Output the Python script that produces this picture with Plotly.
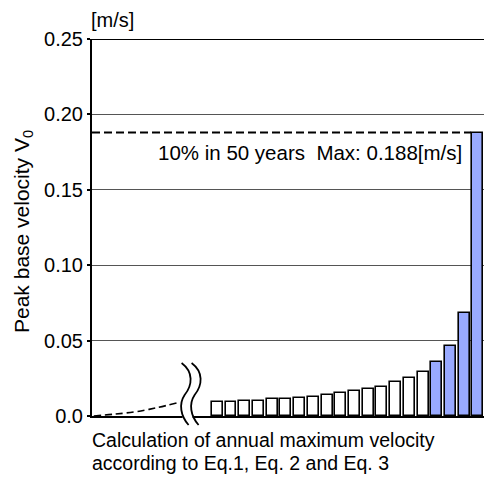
import plotly.graph_objects as go

# ---- data ----
bar_values = [0.0091, 0.0091, 0.0101, 0.0101, 0.0111, 0.0111, 0.0117, 0.0128,
              0.0141, 0.0150, 0.0168, 0.0177, 0.0194, 0.0225, 0.0254, 0.0292,
              0.0358, 0.0464, 0.0683, 0.188]
highlight = [False] * 16 + [True] * 4
curve_x = [-8.0, -6.5, -4.9, -3.4, -1.9]
curve_y = [0.0, 0.0012, 0.0029, 0.0055, 0.0088]
max_value = 0.188
y_tickvals = [0.0, 0.05, 0.10, 0.15, 0.20, 0.25]
y_ticktext = ["0.0", "0.05", "0.10", "0.15", "0.20", "0.25"]
x_title_lines = ["Calculation of annual maximum velocity", "according to Eq.1, Eq. 2 and Eq. 3"]
y_title = "Peak base velocity V<sub>0</sub>"
max_label = "10% in 50 years\u00a0 Max: 0.188[m/s]"
unit_label = "[m/s]"

FONT = "Liberation Sans, Arial, sans-serif"
W, H = 484, 478
ML, MR, MT, MB = 92, 0, 39, 62
XR = [-8.13, 20.44]
YR = [0, 0.25]
break_x = -1.6  # position of the axis-break symbol, in x units

bar_x = list(range(1, len(bar_values) + 1))
colors = ["#99aaff" if h else "white" for h in highlight]

fig = go.Figure()
fig.add_trace(go.Bar(x=bar_x, y=bar_values, width=0.8,
                     marker=dict(color=colors, line=dict(color="black", width=1.6)),
                     showlegend=False, hoverinfo="skip"))
fig.add_trace(go.Scatter(x=curve_x, y=curve_y, mode="lines",
                         line=dict(color="black", width=1.6, dash="7px,4px", shape="spline"),
                         showlegend=False, hoverinfo="skip"))
fig.add_trace(go.Scatter(x=[XR[0], bar_x[-1] - 0.5], y=[max_value, max_value], mode="lines",
                         line=dict(color="black", width=1.8, dash="8px,4px"),
                         showlegend=False, hoverinfo="skip"))

pw, ph = W - ML - MR, H - MT - MB


def px_to_paper(px, py):
    return (px - ML) / pw, (H - MB - py) / ph


bx = ML + (break_x - XR[0]) / (XR[1] - XR[0]) * pw


def wave(dx):
    pts = [(183, 363), (195, 372), (194, 385), (186, 395), (180, 404), (182, 416), (190, 425)]
    pp = [px_to_paper(bx - 183 + x + dx, y) for x, y in pts]
    return "M %f,%f C %f,%f %f,%f %f,%f C %f,%f %f,%f %f,%f" % tuple(v for p in pp for v in p)


shapes = []
g0 = px_to_paper(bx + 1, 416)
g1 = px_to_paper(bx + 11, 416)
shapes.append(dict(type="line", xref="paper", yref="paper", x0=g0[0], x1=g1[0], y0=g0[1], y1=g1[1],
                   line=dict(color="white", width=4), layer="above"))
for dx in (0, 10):
    shapes.append(dict(type="path", xref="paper", yref="paper", path=wave(dx),
                       line=dict(color="black", width=1.8), layer="above"))
shapes.append(dict(type="line", xref="paper", yref="y", x0=0, x1=1, y0=0.25, y1=0.25,
                   line=dict(color="black", width=2)))

yt_x, yt_y = px_to_paper(23, 232)
xt1 = px_to_paper(90, 440)
xt2 = px_to_paper(90, 463)

fig.update_layout(
    width=W, height=H,
    margin=dict(l=ML, r=MR, t=MT, b=MB),
    plot_bgcolor="white", paper_bgcolor="white",
    font=dict(family=FONT, size=20, color="black"),
    bargap=0,
    xaxis=dict(range=XR, showgrid=False, zeroline=False, showticklabels=False, ticks="",
               showline=True, linecolor="black", linewidth=2),
    yaxis=dict(range=YR, tickvals=y_tickvals, ticktext=y_ticktext, showgrid=True,
               gridcolor="#555555", gridwidth=1.3, zeroline=False,
               showline=True, linecolor="black", linewidth=2, ticks="outside", ticklen=3,
               tickcolor="black", tickwidth=2, tickfont=dict(size=20)),
    shapes=shapes,
    annotations=[
        dict(text=unit_label, xref="paper", yref="paper", x=0, y=1, xanchor="left", yanchor="bottom",
             yshift=6, xshift=-3, showarrow=False, font=dict(size=20)),
        dict(text=y_title, xref="paper", yref="paper", x=yt_x, y=yt_y, xanchor="center", yanchor="middle",
             textangle=-90, showarrow=False, font=dict(size=21)),
        dict(text=x_title_lines[0], xref="paper", yref="paper", x=xt1[0], y=xt1[1], xanchor="left",
             yanchor="middle", showarrow=False, font=dict(size=19.5)),
        dict(text=x_title_lines[1], xref="paper", yref="paper", x=xt2[0], y=xt2[1], xanchor="left",
             yanchor="middle", showarrow=False, font=dict(size=19.5)),
        dict(text=max_label, xref="paper", yref="y", x=px_to_paper(464, 0)[0], y=max_value, xanchor="right",
             yanchor="top", yshift=-6, showarrow=False, font=dict(size=20.5)),
    ],
)

fig.write_html("out.html")
